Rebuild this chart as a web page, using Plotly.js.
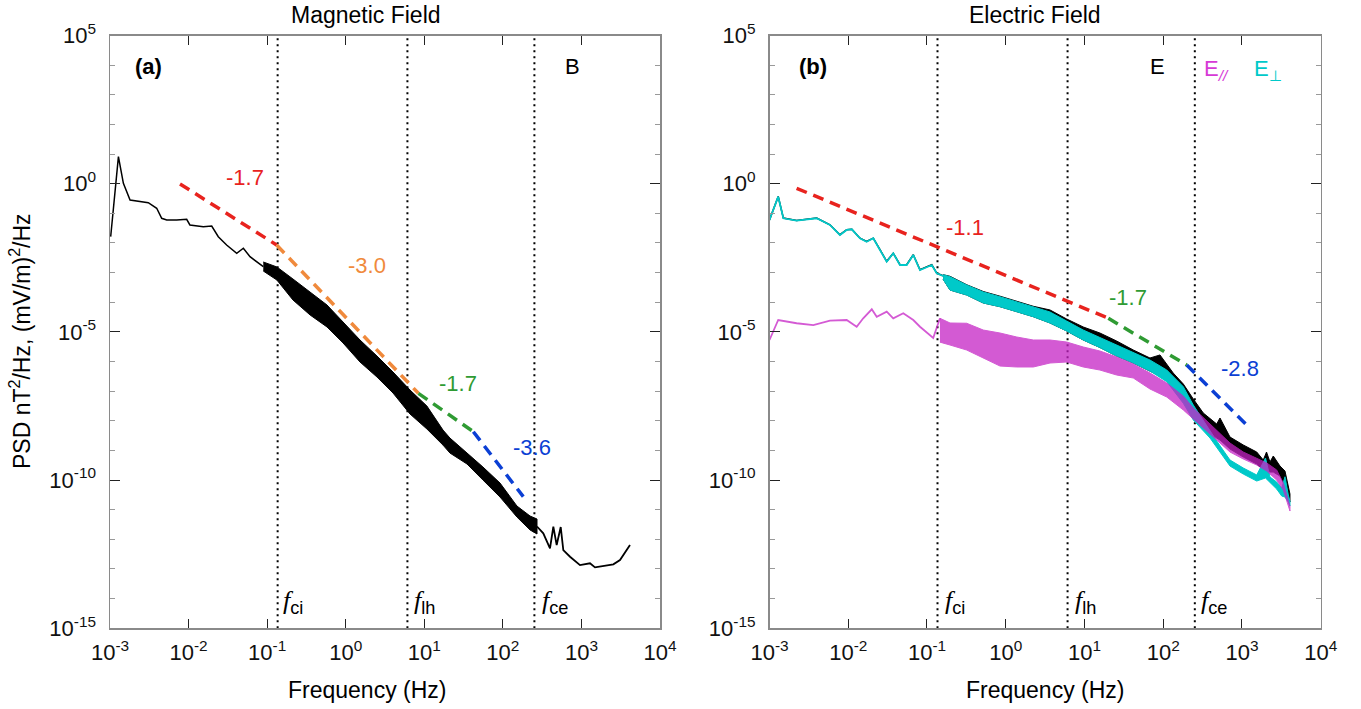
<!DOCTYPE html>
<html><head><meta charset="utf-8">
<script src="https://cdn.plot.ly/plotly-3.0.1.min.js"></script>
<style>html,body{margin:0;padding:0;background:#fff}#chart{width:1361px;height:709px}</style>
</head><body><div id="chart"></div>
<script>
// ---------- DATA ----------
// Panel (a): magnetic field PSD, low-frequency single line
const bLowF = [1.02e-3, 1.28e-3, 1.48e-3, 1.80e-3, 3.07e-3, 3.93e-3, 4.55e-3, 5.27e-3, 7.06e-3, 9.46e-3, 1.04e-2, 1.54e-2, 1.97e-2, 2.39e-2, 3.05e-2, 4.10e-2, 4.98e-2, 6.05e-2, 8.93e-2];
const bLowP = [1.63e-2, 8.15, 1.03, 0.282, 0.229, 0.148, 6.79e-2, 5.96e-2, 5.96e-2, 6.29e-2, 4.04e-2, 3.54e-2, 3.73e-2, 1.63e-2, 8.53e-3, 4.48e-3, 6.61e-3, 3.44e-3, 1.58e-3];
// noisy band: upper / lower envelope
const bBandF  = [8.93e-2, 0.133, 0.213, 0.352, 0.578, 0.925, 1.52, 2.50, 4.0, 6.58, 10.8, 17.3, 21.2, 35.0, 55.8, 92.0, 151, 222, 272];
const bBandUp = [2.28e-3, 1.55e-3, 6.08e-4, 2.21e-4, 8.05e-5, 2.15e-5, 5.31e-6, 1.53e-6, 4.42e-7, 1.09e-7, 3.14e-8, 4.86e-9, 2.61e-9, 8.15e-10, 2.75e-10, 7.92e-11, 1.33e-11, 6.10e-12, 4.83e-12];
const bBandLo = [1.13e-3, 5.62e-4, 1.19e-4, 3.71e-5, 1.46e-5, 4.21e-6, 9.59e-7, 2.99e-7, 8.63e-8, 1.69e-8, 5.26e-9, 1.51e-9, 8.15e-10, 3.47e-10, 1.0e-10, 2.67e-11, 5.64e-12, 2.06e-12, 1.51e-12];
// high-frequency tail
const bTailF = [272, 327, 398, 439, 484, 545, 588, 716, 959, 1285, 1489, 1901, 2547, 3097, 3767, 4150];
const bTailP = [2.7e-12, 1.59e-12, 4.95e-13, 2.65e-12, 6.4e-13, 2.59e-12, 4.34e-13, 2.58e-13, 1.35e-13, 1.55e-13, 1.13e-13, 1.25e-13, 1.43e-13, 2.0e-13, 4.34e-13, 6.40e-13];

// Panel (a) spectral-index fit lines
const fitBRedF = [7.78e-3, 0.132],  fitBRedP = [0.98, 8.53e-3];
const fitBOrgF = [0.132, 8.41],     fitBOrgP = [8.53e-3, 8.43e-8];
const fitBGrnF = [8.41, 42.1],      fitBGrnP = [8.43e-8, 4.27e-9];
const fitBBluF = [42.1, 182],       fitBBluP = [4.27e-9, 2.74e-11];

// Panel (b): E_perp (cyan)
const perpLowF = [1.0e-3, 1.29e-3, 1.50e-3, 2.21e-3, 3.97e-3, 5.86e-3, 7.85e-3, 9.55e-3, 1.11e-2, 1.41e-2, 1.71e-2, 2.08e-2, 2.53e-2, 3.08e-2, 3.73e-2, 4.54e-2, 5.52e-2, 6.70e-2, 8.15e-2, 0.115, 0.133, 0.160];
const perpLowP = [5.96e-2, 0.364, 6.79e-2, 5.64e-2, 6.79e-2, 4.04e-2, 1.86e-2, 2.74e-2, 2.89e-2, 1.44e-2, 1.10e-2, 1.44e-2, 5.78e-3, 2.33e-3, 4.48e-3, 1.80e-3, 1.80e-3, 3.93e-3, 1.22e-3, 1.80e-3, 9.46e-4, 7.67e-4];
const perpBandF  = [0.160, 0.196, 0.319, 0.519, 0.845, 1.38, 2.24, 3.65, 5.94, 9.66, 15.7, 25.6, 41.7, 67.9, 111, 180, 241, 393, 478, 705, 1040, 1540, 1990, 2270, 2760, 3200, 3520, 3880, 4070];
const perpBandUp = [8.5e-4, 7.26e-4, 3.81e-4, 2.21e-4, 1.53e-4, 1.04e-4, 7.06e-5, 4.68e-5, 2.32e-5, 1.15e-5, 6.44e-6, 3.60e-6, 2.09e-6, 1.12e-6, 5.15e-7, 1.41e-7, 3.40e-8, 4.51e-9, 2.07e-9, 4.73e-10, 2.54e-10, 1.48e-10, 5.53e-10, 1.26e-10, 8.55e-11, 5.37e-11, 1.29e-10, 3.12e-11, 1.95e-11];
const perpBandLo = [6.0e-4, 2.58e-4, 1.75e-4, 9.41e-5, 7.06e-5, 4.79e-5, 3.24e-5, 1.99e-5, 1.07e-5, 5.31e-6, 2.96e-6, 1.53e-6, 8.89e-7, 4.77e-7, 2.08e-7, 3.88e-8, 1.06e-8, 2.61e-9, 1.20e-9, 2.96e-10, 1.59e-10, 9.25e-11, 1.17e-10, 7.92e-11, 4.97e-11, 2.88e-11, 2.67e-11, 1.81e-11, 1.33e-11];

// Panel (b): total E (black), mostly hidden under E_perp at low frequency
const eLowF = [1.0e-3, 1.29e-3, 1.50e-3, 2.21e-3, 3.97e-3, 5.86e-3, 7.85e-3, 9.55e-3, 1.11e-2, 1.41e-2, 1.71e-2, 2.08e-2, 2.53e-2, 3.08e-2, 3.73e-2, 4.54e-2, 5.52e-2, 6.70e-2, 8.15e-2, 0.115, 0.133, 0.160];
const eLowP = [6.0e-2, 0.37, 6.9e-2, 5.7e-2, 6.9e-2, 4.1e-2, 1.9e-2, 2.8e-2, 2.9e-2, 1.45e-2, 1.12e-2, 1.45e-2, 5.9e-3, 2.4e-3, 4.5e-3, 1.85e-3, 1.85e-3, 4.0e-3, 1.25e-3, 1.85e-3, 9.6e-4, 7.8e-4];
const eBandF  = [0.160, 0.196, 0.319, 0.519, 0.845, 1.38, 2.24, 3.65, 5.94, 9.66, 15.7, 25.6, 41.7, 67.9, 91.0, 134, 180, 241, 323, 478, 526, 705, 1040, 1540, 1866, 2051, 2270, 2500, 3041, 3520, 3880, 4070];
const eBandUp = [8.5e-4, 7.5e-4, 3.9e-4, 2.3e-4, 1.6e-4, 1.1e-4, 7.3e-5, 5.48e-5, 2.72e-5, 1.46e-5, 9.14e-6, 4.91e-6, 2.44e-6, 1.31e-6, 1.66e-6, 4.08e-7, 1.74e-7, 5.42e-8, 1.82e-8, 7.76e-9, 1.24e-8, 2.82e-9, 1.52e-9, 8.81e-10, 4.73e-10, 8.81e-10, 4.06e-10, 6.46e-10, 2.96e-10, 2.01e-10, 6.27e-11, 3.37e-11];
const eBandLo = [6.0e-4, 2.58e-4, 1.75e-4, 9.41e-5, 7.06e-5, 4.79e-5, 3.24e-5, 1.99e-5, 1.07e-5, 5.31e-6, 2.96e-6, 1.53e-6, 8.89e-7, 4.77e-7, 3.24e-7, 1.61e-7, 5.01e-8, 1.69e-8, 5.69e-9, 2.61e-9, 2.24e-9, 1.11e-9, 5.97e-10, 3.47e-10, 2.18e-10, 2.18e-10, 1.86e-10, 1.86e-10, 1.36e-10, 6.27e-11, 2.88e-11, 1.81e-11];

// Panel (b): E_parallel (magenta)
const parLowF = [1.0e-3, 1.29e-3, 2.21e-3, 3.60e-3, 5.86e-3, 9.55e-3, 1.28e-2, 1.55e-2, 1.99e-2, 2.30e-2, 3.08e-2, 3.73e-2, 5.00e-2, 6.70e-2, 8.15e-2, 0.120, 0.146];
const parLowP = [5.31e-6, 2.51e-5, 1.95e-5, 1.70e-5, 2.38e-5, 2.51e-5, 1.49e-5, 2.87e-5, 5.77e-5, 3.24e-5, 4.79e-5, 2.87e-5, 4.23e-5, 2.51e-5, 1.49e-5, 6.20e-6, 2.87e-5];
const parBandF  = [0.146, 0.196, 0.319, 0.519, 0.845, 1.38, 2.24, 3.65, 5.94, 9.66, 15.7, 25.6, 41.7, 67.9, 111, 180, 241, 478, 705, 1040, 1540, 2065, 2760, 3350, 4070];
const parBandUp = [2.87e-5, 1.99e-5, 1.95e-5, 1.15e-5, 9.14e-6, 6.70e-6, 5.31e-6, 5.31e-6, 4.54e-6, 3.08e-6, 2.26e-6, 1.42e-6, 8.22e-7, 4.08e-7, 1.88e-7, 6.84e-8, 2.69e-8, 4.86e-9, 1.77e-9, 8.81e-10, 5.53e-10, 3.75e-10, 2.18e-10, 7.92e-11, 1.33e-11];
const parBandLo = [4.5e-6, 3.60e-6, 2.44e-6, 1.31e-6, 7.03e-7, 6.52e-7, 6.52e-7, 8.89e-7, 9.59e-7, 6.52e-7, 5.15e-7, 3.50e-7, 2.77e-7, 1.18e-7, 6.32e-8, 2.31e-8, 1.15e-8, 2.24e-9, 8.81e-10, 5.12e-10, 3.21e-10, 2.01e-10, 1.0e-10, 4.59e-11, 9.0e-12];

// Panel (b) fit lines
const fitERedF = [2.21e-3, 20.1], fitERedP = [0.70, 2.87e-5];
const fitEGrnF = [20.1, 199],     fitEGrnP = [2.87e-5, 7.6e-7];
const fitEBluF = [199, 1150],     fitEBluP = [7.6e-7, 7.18e-9];

// characteristic frequencies (Hz): f_ci, f_lh, f_ce
const charFreqs = [0.136, 6.1, 252];
const charNames = ['ci', 'lh', 'ce'];
const yFull = [1e-15, 1e5];

// axis ticks
const xTickVals = [1e-3, 1e-2, 1e-1, 1e0, 1e1, 1e2, 1e3, 1e4];
const xTickText = ['10<sup>-3</sup>', '10<sup>-2</sup>', '10<sup>-1</sup>', '10<sup>0</sup>', '10<sup>1</sup>', '10<sup>2</sup>', '10<sup>3</sup>', '10<sup>4</sup>'];
const yTickVals = [1e5, 1e0, 1e-5, 1e-10, 1e-15];
const yTickText = ['10<sup>5</sup>', '10<sup>0</sup>', '10<sup>-5</sup>', '10<sup>-10</sup>', '10<sup>-15</sup>'];
const yMinorVals = [1e4, 1e3, 1e2, 1e1, 1e-1, 1e-2, 1e-3, 1e-4, 1e-6, 1e-7, 1e-8, 1e-9, 1e-11, 1e-12, 1e-13, 1e-14];

// ---------- STYLE ----------
const FONT = 'Liberation Sans, Arial, sans-serif';
const C = {red:'#e8231e', orange:'#f08a3c', green:'#2f9b33', blue:'#0b3fd4', cyan:'#00c9c9', mag:'#c523c5', magText:'#d63ad6'};

function line(xa, ya, f, p, color, width, dash, opacity) {
  return {type:'scatter', mode:'lines', x:f, y:p, xaxis:xa, yaxis:ya, hoverinfo:'skip', showlegend:false,
    line:{color:color, width:width, dash:dash || 'solid'}, opacity: opacity == null ? 1 : opacity};
}
function band(xa, ya, f, up, lo, color, opacity) {
  const x = f.concat(f.slice().reverse());
  const y = up.concat(lo.slice().reverse());
  return {type:'scatter', mode:'lines', x:x, y:y, xaxis:xa, yaxis:ya, fill:'toself', fillcolor:color,
    hoverinfo:'skip', showlegend:false, line:{color:color, width:1}, opacity: opacity == null ? 1 : opacity};
}

const traces = [];
// vertical dotted lines
['x', 'x2'].forEach((xa, i) => {
  const ya = i === 0 ? 'y' : 'y2';
  charFreqs.forEach(fc => traces.push(line(xa, ya, [fc, fc], yFull, '#000', 2, '2px,4px')));
});
// panel a
traces.push(line('x', 'y', bLowF, bLowP, '#000', 1.5));
traces.push(band('x', 'y', bBandF, bBandUp, bBandLo, '#000'));
traces.push(line('x', 'y', bTailF, bTailP, '#000', 1.8));
const DASH = '11px,7px';
traces.push(line('x', 'y', fitBRedF, fitBRedP, C.red, 3.5, DASH));
traces.push(line('x', 'y', fitBOrgF, fitBOrgP, C.orange, 3.5, DASH));
traces.push(line('x', 'y', fitBGrnF, fitBGrnP, C.green, 3.5, DASH));
traces.push(line('x', 'y', fitBBluF, fitBBluP, C.blue, 3.5, DASH));
// panel b
traces.push(line('x2', 'y2', eLowF, eLowP, '#000', 1.5));
traces.push(band('x2', 'y2', eBandF, eBandUp, eBandLo, '#000'));
traces.push(line('x2', 'y2', perpLowF, perpLowP, C.cyan, 1.8));
traces.push(band('x2', 'y2', perpBandF, perpBandUp, perpBandLo, C.cyan));
traces.push(line('x2', 'y2', parLowF, parLowP, C.mag, 1.8, null, 0.75));
traces.push(band('x2', 'y2', parBandF, parBandUp, parBandLo, C.mag, 0.75));
traces.push(line('x2', 'y2', fitERedF, fitERedP, C.red, 3.5, DASH));
traces.push(line('x2', 'y2', fitEGrnF, fitEGrnP, C.green, 3.5, DASH));
traces.push(line('x2', 'y2', fitEBluF, fitEBluP, C.blue, 3.5, DASH));

// ---------- LAYOUT ----------
const W = 1361, H = 709;
function px(x) { return x / W; }
function py(y) { return 1 - y / H; }
function A(text, x, y, color, size, extra) {
  return Object.assign({text:text, x:px(x), y:py(y), xref:'paper', yref:'paper', showarrow:false,
    xanchor:'center', yanchor:'middle', font:{family:FONT, size:size || 22, color:color || '#000'}}, extra || {});
}

function xAxis(domain, anchor) {
  return {type:'log', range:[-3, 4], domain:domain, anchor:anchor, tickmode:'array', tickvals:xTickVals, ticktext:xTickText,
    ticks:'inside', ticklen:9, tickwidth:1, tickcolor:'#222', showline:true, linecolor:'#8a8a8a', linewidth:1.5,
    mirror:'ticks', showgrid:false, zeroline:false, automargin:false, ticklabelstandoff:4,
    tickfont:{family:FONT, size:22, color:'#111'}};
}
function yAxis(anchor) {
  return {type:'log', range:[-15, 5], domain:[py(628.2), py(35.5)], anchor:anchor, tickmode:'array', tickvals:yTickVals, ticktext:yTickText,
    ticks:'inside', ticklen:10, tickwidth:1, tickcolor:'#222', showline:true, linecolor:'#8a8a8a', linewidth:1.5,
    mirror:'ticks', showgrid:false, zeroline:false, automargin:false, ticklabelstandoff:8,
    tickfont:{family:FONT, size:22, color:'#111'},
    minor:{tickmode:'array', tickvals:yMinorVals, ticks:'inside', ticklen:5, tickcolor:'#999', tickwidth:1, showgrid:false}};
}

const annotations = [
  A('Magnetic Field', 366, 15, '#000', 23),
  A('Electric Field', 1035, 15, '#000', 23),
  A('Frequency (Hz)', 367, 690, '#000', 23),
  A('Frequency (Hz)', 1045, 690, '#000', 23),
  A('PSD nT<sup>2</sup>/Hz, (mV/m)<sup>2</sup>/Hz', 20, 341, '#000', 23, {textangle:-90}),
  A('<b>(a)</b>', 148, 67),
  A('B', 572, 67),
  A('<b>(b)</b>', 813, 67),
  A('E', 1157, 67),
  A('E<sub><i>//</i></sub>', 1216, 70, C.magText),
  A('E<sub>⊥</sub>', 1268, 70, C.cyan),
  A('-1.7', 245, 177, C.red),
  A('-3.0', 367, 265, C.orange),
  A('-1.7', 458, 383, C.green),
  A('-3.6', 532, 447, C.blue),
  A('-1.1', 965, 228, C.red),
  A('-1.7', 1128, 297, C.green),
  A('-2.8', 1240, 368, C.blue)
];
// f labels next to each dotted line
const fLabelX = [[281, 412, 540], [943, 1073, 1199]];
fLabelX.forEach(row => row.forEach((x, i) => {
  annotations.push(A('<span style="font-family:Liberation Serif, serif"><i>f</i></span><sub>' + charNames[i] + '</sub>', x, 602, '#000', 26, {xanchor:'left'}));
}));

const layout = {
  width:W, height:H, margin:{l:0, r:0, t:0, b:0}, paper_bgcolor:'#fff', plot_bgcolor:'#fff',
  font:{family:FONT, size:22, color:'#000'}, showlegend:false,
  xaxis: xAxis([px(110), px(660)], 'y'),
  yaxis: yAxis('x'),
  xaxis2: xAxis([px(769.5), px(1320.7)], 'y2'),
  yaxis2: yAxis('x2'),
  annotations: annotations
};

Plotly.newPlot('chart', traces, layout, {staticPlot:true, displayModeBar:false});
</script></body></html>
